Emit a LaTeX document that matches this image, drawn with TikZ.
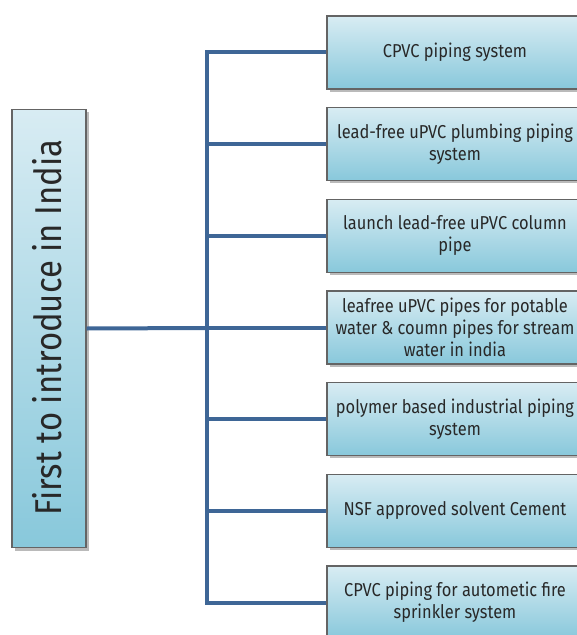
\documentclass[tikz,border=0pt]{standalone}
\usepackage{fontspec}
\setmainfont{Fira Sans}[FakeStretch=0.88]
\usetikzlibrary{shadows,calc}
\definecolor{boxtop}{RGB}{216,236,243}
\definecolor{boxbot}{RGB}{136,200,219}
\definecolor{linec}{RGB}{62,102,150}
\definecolor{txtc}{RGB}{40,40,40}
\definecolor{edgec}{RGB}{100,100,100}
\tikzset{
  itembox/.style={rectangle, draw=edgec, line width=0.8pt, top color=boxtop, bottom color=boxbot,
    minimum width=192pt, minimum height=54.75pt, inner sep=0pt, align=center, text=txtc,
    font=\fontsize{14}{16.3}\selectfont,
    drop shadow={shadow xshift=2pt, shadow yshift=-2pt, opacity=0.45, fill=black!60}},
  mainbox/.style={rectangle, draw=edgec, line width=0.8pt, top color=boxtop, bottom color=boxbot,
    minimum width=55.5pt, minimum height=329pt, inner sep=0pt, text=txtc,
    drop shadow={shadow xshift=2pt, shadow yshift=-2pt, opacity=0.45, fill=black!60}},
  conn/.style={draw=linec, line width=3pt}
}
\begin{document}
\begin{tikzpicture}[x=0.75pt,y=-0.75pt]
\useasboundingbox (0,0) rectangle (577,635);
\node[mainbox] (main) at (49,328.5) {};
\node[rotate=90, text=txtc, font=\fontsize{28}{32}\selectfont, anchor=center] (maintxt) at (47,327.5) {First to introduce in India};
\node[itembox] (b1) at (455,52.5) {CPVC piping system};
\node[itembox] (b2) at (455,144.2) {lead-free uPVC plumbing piping\\system};
\node[itembox] (b3) at (455,235.8) {launch lead-free uPVC column\\pipe};
\node[itembox] (b4) at (455,327.5) {leafree uPVC pipes for potable\\water \& coumn pipes for stream\\water in india};
\node[itembox] (b5) at (455,419.2) {polymer based industrial piping\\system};
\node[itembox] (b6) at (455,510.8) {NSF approved solvent Cement};
\node[itembox] (b7) at (455,602.5) {CPVC piping for autometic fire\\sprinkler system};
\coordinate (tr) at (207,328);
\draw[conn] (b1.west) -| (tr) |- (b7.west);
\draw[conn] (main.east) -- (tr);
\draw[conn] (b2.west) -- (b2.west -| tr);
\draw[conn] (b3.west) -- (b3.west -| tr);
\draw[conn] (b4.west) -- (b4.west -| tr);
\draw[conn] (b5.west) -- (b5.west -| tr);
\draw[conn] (b6.west) -- (b6.west -| tr);
\end{tikzpicture}
\end{document}
